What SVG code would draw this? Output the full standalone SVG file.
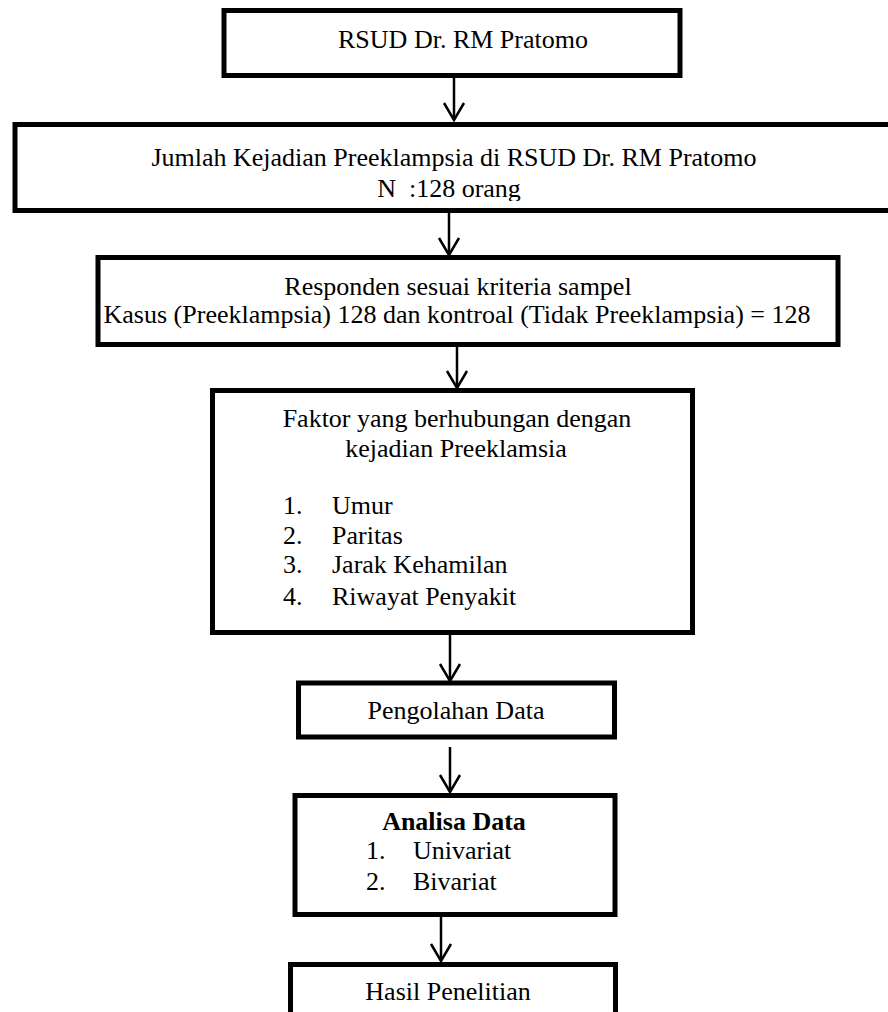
<svg xmlns="http://www.w3.org/2000/svg" width="888" height="1012" viewBox="0 0 888 1012">
<defs>
<style>
.box{fill:#fff;stroke:#000;stroke-width:5}
.t{font-family:"Liberation Serif","Times New Roman",serif;font-size:26px;fill:#000}
.c{text-anchor:middle}
.b{font-weight:bold}
.con{stroke:#000;stroke-width:2.5;fill:none}
</style>
<marker id="ah" markerWidth="22" markerHeight="24" refX="18" refY="11" orient="auto" markerUnits="userSpaceOnUse" overflow="visible">
<path d="M1,1 L18,11 L1,21" fill="none" stroke="#000" stroke-width="2.5"/>
</marker>
<clipPath id="clip2"><rect x="15" y="124" width="880" height="77"/></clipPath>
</defs>
<rect width="888" height="1012" fill="#fff"/>
<g id="connectors">
<line class="con" x1="454" y1="78" x2="454" y2="120" marker-end="url(#ah)"/>
<line class="con" x1="449" y1="213" x2="449" y2="255" marker-end="url(#ah)"/>
<line class="con" x1="457" y1="347" x2="457" y2="388" marker-end="url(#ah)"/>
<line class="con" x1="450" y1="635" x2="450" y2="681" marker-end="url(#ah)"/>
<line class="con" x1="450" y1="747" x2="450" y2="792" marker-end="url(#ah)"/>
<line class="con" x1="441" y1="917" x2="441" y2="961" marker-end="url(#ah)"/>
</g>
<g id="n1">
<rect class="box" x="224" y="10.5" width="456" height="65"/>
<text class="t c" x="463" y="48">RSUD Dr. RM Pratomo</text>
</g>
<g id="n2">
<rect class="box" x="15" y="124.5" width="890" height="86"/>
<g clip-path="url(#clip2)">
<text class="t c" x="454" y="166">Jumlah Kejadian Preeklampsia di RSUD Dr. RM Pratomo</text>
<text class="t c" x="449" y="197" xml:space="preserve">N  :128 orang</text>
</g>
</g>
<g id="n3">
<rect class="box" x="98" y="257.5" width="740" height="87"/>
<text class="t c" x="458" y="295">Responden sesuai kriteria sampel</text>
<text class="t c" x="457" y="323">Kasus (Preeklampsia) 128 dan kontroal (Tidak Preeklampsia) = 128</text>
</g>
<g id="n4">
<rect class="box" x="212.5" y="390.5" width="480" height="242"/>
<text class="t c" x="457" y="427">Faktor yang berhubungan dengan</text>
<text class="t c" x="456" y="457">kejadian Preeklamsia</text>
<text class="t" x="283" y="514">1.</text><text class="t" x="332" y="514">Umur</text>
<text class="t" x="283" y="544">2.</text><text class="t" x="332" y="544">Paritas</text>
<text class="t" x="283" y="573">3.</text><text class="t" x="332" y="573">Jarak Kehamilan</text>
<text class="t" x="283" y="605">4.</text><text class="t" x="332" y="605">Riwayat Penyakit</text>
</g>
<g id="n5">
<rect class="box" x="298.5" y="683" width="316" height="54"/>
<text class="t c" x="456" y="719">Pengolahan Data</text>
</g>
<g id="n6">
<rect class="box" x="295" y="795.5" width="320" height="119"/>
<text class="t c b" x="454" y="830">Analisa Data</text>
<text class="t" x="366" y="859">1.</text><text class="t" x="413" y="859">Univariat</text>
<text class="t" x="366" y="890">2.</text><text class="t" x="413" y="890">Bivariat</text>
</g>
<g id="n7">
<rect class="box" x="290.5" y="964.5" width="325" height="80"/>
<text class="t c" x="448" y="1000">Hasil Penelitian</text>
</g>
</svg>
